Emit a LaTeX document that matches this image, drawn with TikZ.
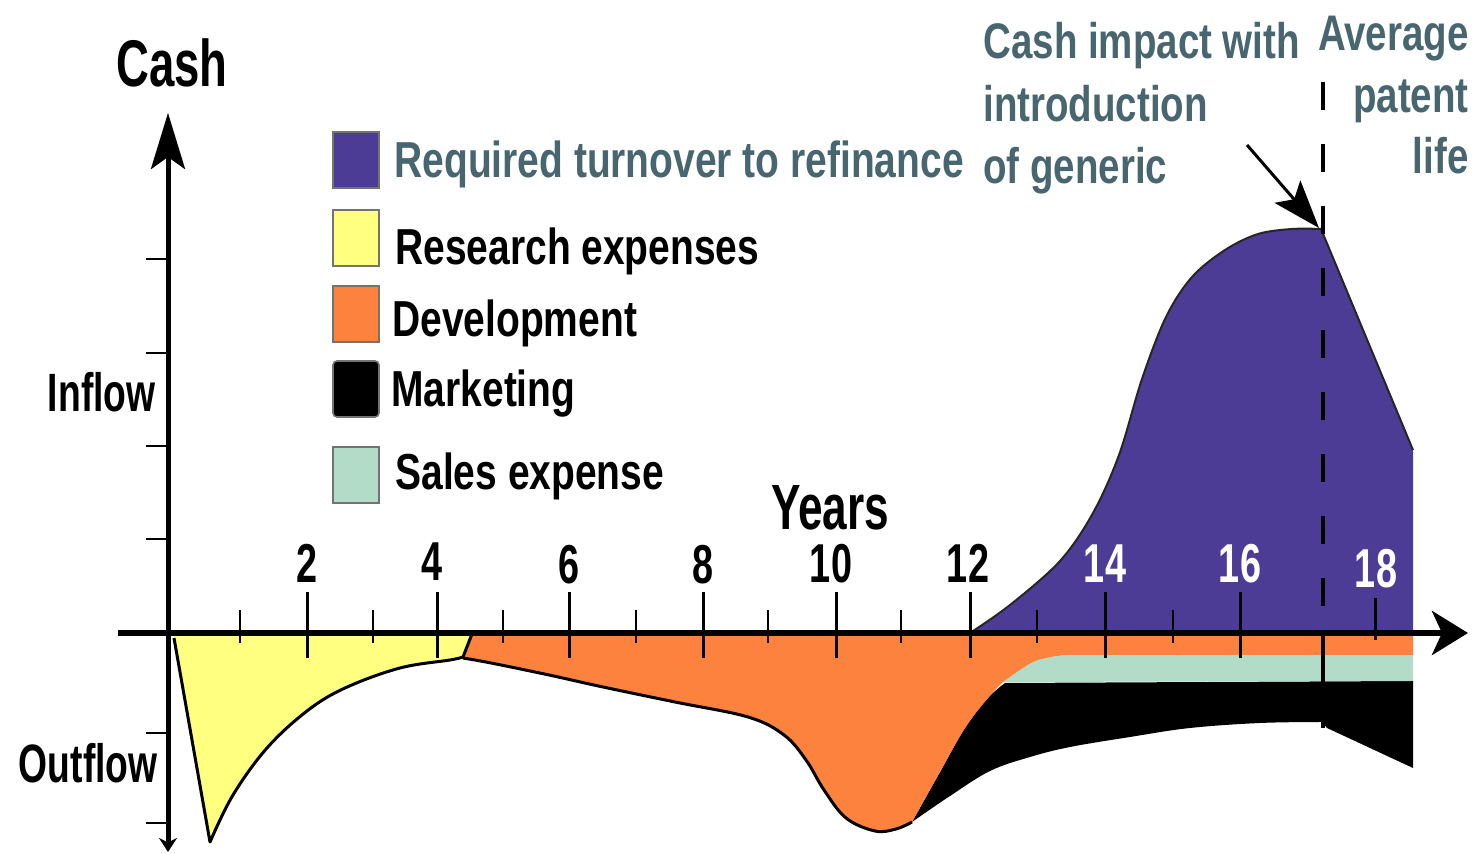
\documentclass[tikz,border=0pt]{standalone}
\usepackage{fontspec}
\setmainfont{Liberation Sans}
\newfontfamily\fA{Liberation Sans}[FakeStretch=0.69]
\newfontfamily\fB{Liberation Sans}[FakeStretch=0.77]
\usetikzlibrary{arrows.meta}
\definecolor{cpurple}{RGB}{76,60,150}
\definecolor{cyellow}{RGB}{255,255,128}
\definecolor{corange}{RGB}{252,130,62}
\definecolor{csales}{RGB}{178,220,200}
\definecolor{cteal}{RGB}{72,102,112}
\begin{document}
\begin{tikzpicture}[x=0.5pt,y=-0.5pt,
  yr/.style={inner sep=0pt, anchor=base, font=\fA\bfseries\fontsize{27.4}{30}\selectfont},
  bigl/.style={inner sep=0pt, font=\fA\bfseries\fontsize{27}{30}\selectfont},
  leg/.style={inner sep=0pt, anchor=base west, font=\fB\bfseries\fontsize{25.3}{30}\selectfont},
  legbox/.style={draw=black!55, line width=0.8pt, minimum width=23pt, minimum height=28pt, inner sep=0pt},
  callout/.style={inner sep=0pt, text=cteal, font=\fB\bfseries\fontsize{25}{30}\selectfont},
  majtick/.style={line width=1.5pt},
  mintick/.style={line width=1.4pt},
  outl/.style={line width=1.5pt, line join=round},
]
\useasboundingbox (0,0) rectangle (1480,854);

% ---------- Marketing (black) ----------
\fill[black] plot[smooth, tension=0.6] coordinates {(912,822) (940,772) (965,728) (988,698) (1005,683)}
  -- (1413,681) -- (1413,768) -- (1327,728) -- (1322,722)
  -- plot[smooth, tension=0.6] coordinates {(1322,722) (1260,723) (1190,728) (1130,737) (1070,747) (1030,757) (990,771) (950,796) (912,822)} -- cycle;

% ---------- Sales expense ----------
\fill[csales] plot[smooth, tension=0.6] coordinates {(1003,682) (1031,663) (1051,657) (1067,655)}
  -- (1413,655) -- (1413,681) -- cycle;

% ---------- Development (orange) ----------
\fill[corange] (470,633) -- (1413,633) -- (1413,655) -- (1067,655)
  -- plot[smooth, tension=0.6] coordinates {(1067,655) (1051,657) (1031,663) (1003,682)}
  -- plot[smooth, tension=0.6] coordinates {(1003,682) (988,698) (965,728) (940,772) (912,822)}
  -- plot[smooth, tension=0.6] coordinates {(912,822) (896,829) (875,831) (846,818) (824,790) (806,760) (784,735) (748,717) (675,702) (603,687) (549,675) (491,663) (463,658)}
  -- cycle;
\draw[outl] plot[smooth, tension=0.6] coordinates {(912,822) (896,829) (875,831) (846,818) (824,790) (806,760) (784,735) (748,717) (675,702) (603,687) (549,675) (491,663) (463,658)};

% ---------- Research (yellow) ----------
\fill[cyellow] (170,633) -- (174,638) -- (210,842)
  -- plot[smooth, tension=0.6] coordinates {(210,842) (233,795) (267,748) (307,711) (345,688) (400,668) (450,660) (463,657)}
  -- (472,634) -- cycle;
\draw[outl] (174,638) -- (210,842)
  -- plot[smooth, tension=0.6] coordinates {(210,842) (233,795) (267,748) (307,711) (345,688) (400,668) (450,660) (463,657)}
  -- (472,634);

% ---------- Required turnover (purple) ----------
\fill[cpurple] plot[smooth, tension=0.55] coordinates {(970,633) (1010,605) (1060,561) (1093,513) (1119,455) (1142,379) (1166,317) (1192,277) (1225,250) (1258,234) (1292,229) (1321,229)}
  -- (1413,450) -- (1413,633) -- cycle;
\draw[line width=1pt, black!85] plot[smooth, tension=0.55] coordinates {(970,633) (1010,605) (1060,561) (1093,513) (1119,455) (1142,379) (1166,317) (1192,277) (1225,250) (1258,234) (1292,229) (1321,229)} -- (1413,450);

% ---------- axes ----------
\coordinate (xs) at (118,633);
\coordinate (xe) at (1468,633);
\coordinate (ys) at (168,852);
\coordinate (ye) at (168,113);
\draw[line width=3pt, -{Stealth[length=18pt,width=22pt,inset=5pt]}] (xs) -- (xe);
\draw[line width=2.5pt, {Stealth[length=7pt,width=9pt]}-{Stealth[length=28pt,width=17pt,inset=6pt]}] (ys) -- (ye);

% y ticks
\foreach \yy in {259,353,446,539,733,823}
  \draw[mintick] (146,\yy) -- (168,\yy);
% x ticks
\foreach \xx in {240,373,503,636,768,901,1037,1173}
  \draw[mintick] (\xx,610) -- (\xx,643);
\foreach \xx in {307,437,569,703,836,970,1105,1240}
  \draw[majtick] (\xx,592) -- (\xx,658);
\draw[majtick] (1375,598) -- (1375,640);

% ---------- patent life line ----------
\coordinate (dtop) at (1323,82);
\coordinate (dax) at (1323,633);
\coordinate (dbot) at (1323,728);
\draw[line width=1.6pt, dash pattern=on 14pt off 17pt] (dtop) -- (dax);
\draw[line width=1.6pt] (dax) -- (dbot);

% ---------- callout arrow ----------
\coordinate (astart) at (1247,145);
\coordinate (peak) at (1319,228);
\draw[line width=1.5pt, -{Stealth[length=24pt,width=17pt,inset=5pt]}] (astart) -- (peak);

% ---------- axis labels ----------
\node[inner sep=0pt, anchor=base, font=\fA\bfseries\fontsize{33}{36}\selectfont] (cash) at (172,87) {Cash};
\node[bigl, anchor=base east] (inflow) at (156,412) {Inflow};
\node[bigl, anchor=base east] (outflow) at (158,783) {Outflow};
\node[inner sep=0pt, anchor=base, font=\fA\bfseries\fontsize{32}{36}\selectfont] (years) at (830,530) {Years};

% year numbers
\node[yr] (y2) at (307,583) {2};
\node[yr] (y4) at (432,581) {4};
\node[yr] (y6) at (569,584) {6};
\node[yr] (y8) at (703,584) {8};
\node[yr] (y10) at (831,583) {10};
\node[yr] (y12) at (968,583) {12};
\node[yr, text=white] (y14) at (1105,583) {14};
\node[yr, text=white] (y16) at (1240,583) {16};
\node[yr, text=white] (y18) at (1376,588) {18};

% ---------- legend ----------
\node[legbox, fill=cpurple] (bp) at (356,160) {};
\node[legbox, fill=cyellow] (by) at (356,238) {};
\node[legbox, fill=corange] (bo) at (356,314) {};
\node[legbox, fill=black, rounded corners=2pt] (bk) at (356,389) {};
\node[legbox, fill=csales] (bs) at (356,475) {};
\node[leg, text=cteal] (lp) at (394,178) {Required turnover to refinance};
\node[leg] (ly) at (395,265) {Research expenses};
\node[leg] (lo) at (392,337) {Development};
\node[leg] (lk) at (391,407) {Marketing};
\node[leg] (ls) at (395,490) {Sales expense};

% ---------- callouts ----------
\node[callout, anchor=base west] (c1) at (983,59) {Cash impact with};
\node[callout, anchor=base west] (c2) at (983,122) {introduction};
\node[callout, anchor=base west] (c3) at (983,184) {of generic};
\node[callout, anchor=base east] (a1) at (1469,51) {Average};
\node[callout, anchor=base east] (a2) at (1469,113) {patent};
\node[callout, anchor=base east] (a3) at (1469,174) {life};
\end{tikzpicture}
\end{document}
